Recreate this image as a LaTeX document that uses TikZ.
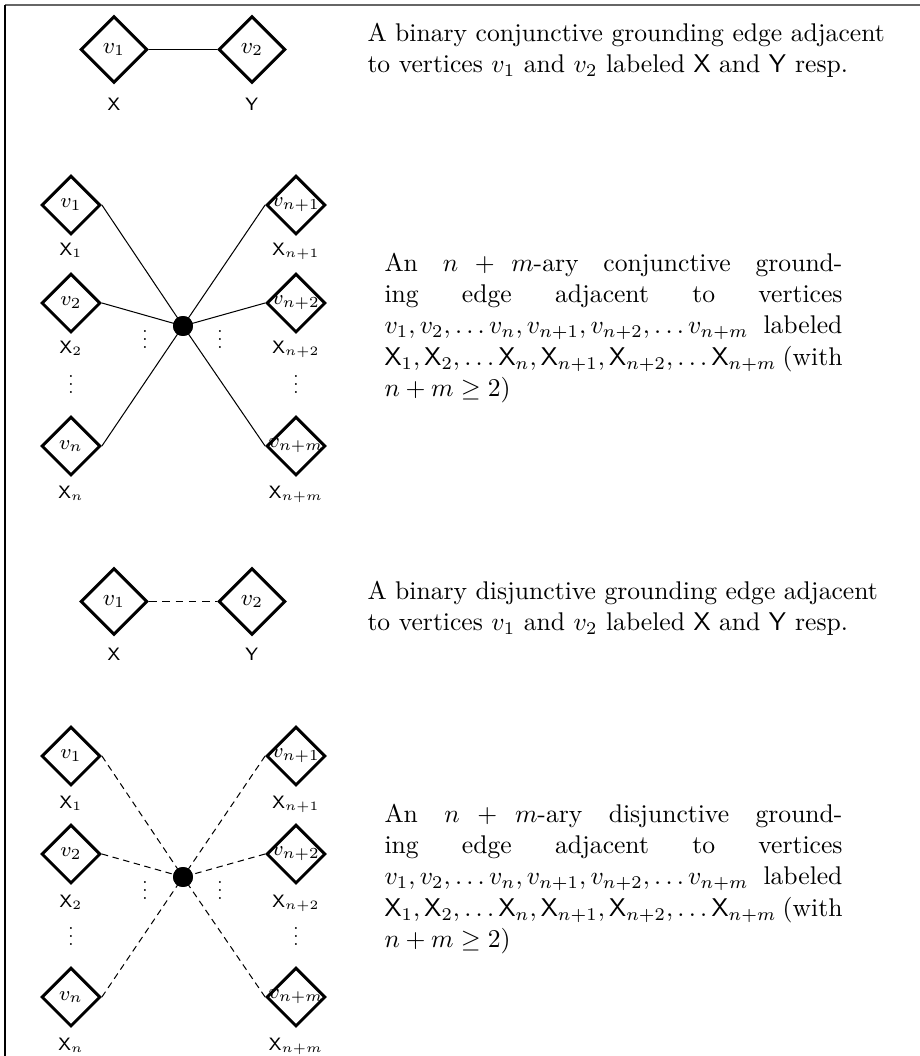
\documentclass[tikz,border=0pt]{standalone}
\usepackage{graphicx}
\usetikzlibrary{shapes.geometric}
\newcommand\descfont{\fontsize{10}{12.3}\selectfont\hyphenpenalty=10000 }
\newcommand\sv[1]{\makebox[0pt]{$#1$}}
\tikzset{
  bigdia/.style={shape=diamond, draw, line width=1.15pt, inner sep=0pt, minimum size=26.1pt, font=\small},
  smalldia/.style={shape=diamond, draw, line width=1.15pt, inner sep=0pt, minimum size=23pt, font=\footnotesize},
  lab/.style={anchor=base, inner sep=0pt, font=\scriptsize},
  hub/.style={circle, fill=black, inner sep=0pt, minimum size=7.8pt},
  vd/.style={anchor=base, inner sep=0pt, scale=0.74},
  conn/.style={line width=0.4pt},
  dconnA/.style={line width=0.4pt, dash pattern=on 3pt off 2.2pt},
  dconnB/.style={line width=0.4pt, dash pattern=on 2.5pt off 1.8pt},
  descshort/.style={anchor=base west, inner sep=0pt, text width=215pt, align=left, font=\descfont},
  desclong/.style={anchor=base west, inner sep=0pt, text width=178.9pt, align=justify, font=\descfont},
}
\begin{document}
\begin{tikzpicture}[x=0.390625pt, y=-0.390625pt]
\useasboundingbox (0,0) rectangle (920,1056);
% table rules
\coordinate (tl) at (5,5);
\coordinate (tr) at (920,5);
\coordinate (bl) at (5,1056);
\draw[line width=0.6pt, black!60] (tl) -- (tr);
\draw[line width=0.5pt] (tl) -- (bl);

% ---------- row 1 ----------
\node[bigdia] (a1) at (114,49.5) {\sv{v_1}};
\node[bigdia] (a2) at (252,49.5) {\sv{v_2}};
\node[lab] (ax) at (114,110) {$\mathsf{X}$};
\node[lab] (ay) at (252,110) {$\mathsf{Y}$};
\draw[conn] (a1.east) -- (a2.west);
\node[descshort] (t1) at (367,41.5) {A binary conjunctive grounding edge adjacent\\to vertices $v_1$ and $v_2$ labeled $\mathsf{X}$ and $\mathsf{Y}$ resp.};

% ---------- row 2 ----------
\node[hub] (c2) at (183,326) {};
\node[smalldia] (b1) at (71,205) {\sv{v_1}};
\node[smalldia] (b2) at (71,303) {\sv{v_2}};
\node[smalldia] (bn) at (71,446) {\sv{v_n}};
\node[smalldia] (b3) at (296,205) {\sv{v_{n+1}}};
\node[smalldia] (b4) at (296,303) {\sv{v_{n+2}}};
\node[smalldia] (bm) at (296,446) {\sv{v_{n+m}}};
\node[lab] (bx1) at (71,255) {$\mathsf{X}_1$};
\node[lab] (bx2) at (71,353) {$\mathsf{X}_2$};
\node[lab] (bxn) at (71,498) {$\mathsf{X}_n$};
\node[lab] (bx3) at (296,255) {$\mathsf{X}_{n+1}$};
\node[lab] (bx4) at (296,353) {$\mathsf{X}_{n+2}$};
\node[lab] (bxm) at (296,498) {$\mathsf{X}_{n+m}$};
\node[vd] (bd1) at (71,393) {$\vdots$};
\node[vd] (bd2) at (296,393) {$\vdots$};
\node[vd] (bd3) at (145,348) {$\vdots$};
\node[vd] (bd4) at (220,348) {$\vdots$};
\draw[conn] (b1.east) -- (c2.center);
\draw[conn] (b2.east) -- (c2.center);
\draw[conn] (bn.east) -- (c2.center);
\draw[conn] (b3.west) -- (c2.center);
\draw[conn] (b4.west) -- (c2.center);
\draw[conn] (bm.west) -- (c2.center);
\node[hub] at (c2) {};
\node[desclong] (t2) at (384,271) {An $n+m$-ary conjunctive ground-\linebreak ing edge adjacent to vertices\linebreak $v_1, v_2, \ldots v_n, v_{n+1}, v_{n+2}, \ldots v_{n+m}$ labeled\linebreak $\mathsf{X}_1, \mathsf{X}_2, \ldots \mathsf{X}_n, \mathsf{X}_{n+1}, \mathsf{X}_{n+2}, \ldots \mathsf{X}_{n+m}$ (with\linebreak $n+m \geq 2$)};

% ---------- row 3 ----------
\node[bigdia] (d1) at (114,601.5) {\sv{v_1}};
\node[bigdia] (d2) at (252,601.5) {\sv{v_2}};
\node[lab] (dx) at (114,660) {$\mathsf{X}$};
\node[lab] (dy) at (252,660) {$\mathsf{Y}$};
\draw[dconnA] (d1.east) -- (d2.west);
\node[descshort] (t3) at (367,599.5) {A binary disjunctive grounding edge adjacent\\to vertices $v_1$ and $v_2$ labeled $\mathsf{X}$ and $\mathsf{Y}$ resp.};

% ---------- row 4 ----------
\node[hub] (c4) at (183,877) {};
\node[smalldia] (e1) at (71,756) {\sv{v_1}};
\node[smalldia] (e2) at (71,854) {\sv{v_2}};
\node[smalldia] (en) at (71,997) {\sv{v_n}};
\node[smalldia] (e3) at (296,756) {\sv{v_{n+1}}};
\node[smalldia] (e4) at (296,854) {\sv{v_{n+2}}};
\node[smalldia] (em) at (296,997) {\sv{v_{n+m}}};
\node[lab] (ex1) at (71,808) {$\mathsf{X}_1$};
\node[lab] (ex2) at (71,907) {$\mathsf{X}_2$};
\node[lab] (exn) at (71,1050) {$\mathsf{X}_n$};
\node[lab] (ex3) at (296,808) {$\mathsf{X}_{n+1}$};
\node[lab] (ex4) at (296,907) {$\mathsf{X}_{n+2}$};
\node[lab] (exm) at (296,1050) {$\mathsf{X}_{n+m}$};
\node[vd] (ed1) at (71,945) {$\vdots$};
\node[vd] (ed2) at (296,945) {$\vdots$};
\node[vd] (ed3) at (145,899) {$\vdots$};
\node[vd] (ed4) at (220,899) {$\vdots$};
\draw[dconnB] (e1.east) -- (c4.center);
\draw[dconnB] (e2.east) -- (c4.center);
\draw[dconnB] (en.east) -- (c4.center);
\draw[dconnB] (e3.west) -- (c4.center);
\draw[dconnB] (e4.west) -- (c4.center);
\draw[dconnB] (em.west) -- (c4.center);
\node[hub] at (c4) {};
\node[desclong] (t4) at (384,822) {An $n+m$-ary disjunctive ground-\linebreak ing edge adjacent to vertices\linebreak $v_1, v_2, \ldots v_n, v_{n+1}, v_{n+2}, \ldots v_{n+m}$ labeled\linebreak $\mathsf{X}_1, \mathsf{X}_2, \ldots \mathsf{X}_n, \mathsf{X}_{n+1}, \mathsf{X}_{n+2}, \ldots \mathsf{X}_{n+m}$ (with\linebreak $n+m \geq 2$)};
\end{tikzpicture}
\end{document}
